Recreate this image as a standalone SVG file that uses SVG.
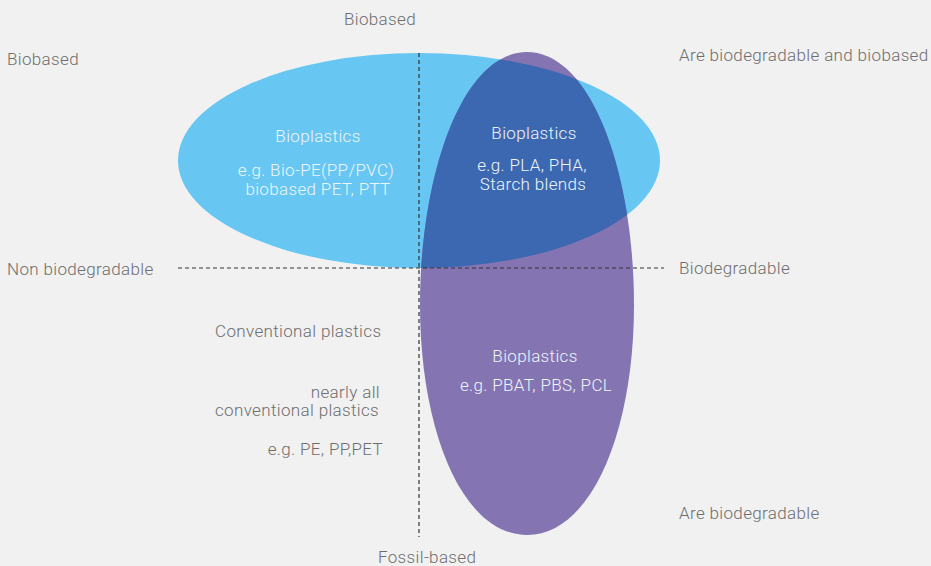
<svg xmlns="http://www.w3.org/2000/svg" width="931" height="566" viewBox="0 0 931 566">
<defs>
<style>
.t{font-family:Roboto,"Liberation Sans",sans-serif;font-weight:300;font-size:17px;letter-spacing:0.35px;fill:#6e6e6e}
.w{font-family:Roboto,"Liberation Sans",sans-serif;font-weight:300;font-size:17px;letter-spacing:0.35px;fill:#eef6fb;text-anchor:middle}
.ax{stroke:#333;stroke-width:1.2;stroke-dasharray:4 3;fill:none}
</style>
<clipPath id="blueClip"><ellipse cx="419" cy="160.5" rx="241" ry="107.5"/></clipPath>
<path id="egg" d="M527,52 C592,52 634,175 634,305 C634,430 592,535 527,535 C462,535 420,430 420,305 C420,175 462,52 527,52 Z"/>
</defs>
<rect width="931" height="566" fill="#f1f1f1"/>
<g id="biobased-nonbio">
<ellipse cx="419" cy="160.5" rx="241" ry="107.5" fill="#67c6f2"/>
</g>
<g id="biodegradable">
<use href="#egg" fill="#8474b2"/>
</g>
<g id="overlap">
<use href="#egg" fill="#3c68b1" clip-path="url(#blueClip)"/>
</g>
<g id="connectors">
<line class="ax" x1="419" y1="53" x2="419" y2="537"/>
<line class="ax" x1="178" y1="268" x2="664" y2="268"/>
</g>
<g id="labels">
<text class="t" x="380" y="25" text-anchor="middle">Biobased</text>
<text class="t" x="7" y="65">Biobased</text>
<text class="t" x="679" y="61">Are biodegradable and biobased</text>
<text class="t" x="7" y="275">Non biodegradable</text>
<text class="t" x="679" y="274">Biodegradable</text>
<text class="t" x="215" y="337">Conventional plastics</text>
<text class="t" x="380" y="398" text-anchor="end">nearly all</text>
<text class="t" x="215" y="416">conventional plastics</text>
<text class="t" x="383" y="455" text-anchor="end">e.g. PE, PP,PET</text>
<text class="t" x="679" y="519">Are biodegradable</text>
<text class="t" x="378" y="563">Fossil-based</text>
</g>
<g id="node-left">
<text class="w" x="318" y="142">Bioplastics</text>
<text class="w" x="316" y="176">e.g. Bio-PE(PP/PVC)</text>
<text class="w" x="318" y="195">biobased PET, PTT</text>
</g>
<g id="node-overlap">
<text class="w" x="534" y="139">Bioplastics</text>
<text class="w" x="532" y="171">e.g. PLA, PHA,</text>
<text class="w" x="533" y="190">Starch blends</text>
</g>
<g id="node-bottom">
<text class="w" x="535" y="362">Bioplastics</text>
<text class="w" x="536" y="391">e.g. PBAT, PBS, PCL</text>
</g>
</svg>
